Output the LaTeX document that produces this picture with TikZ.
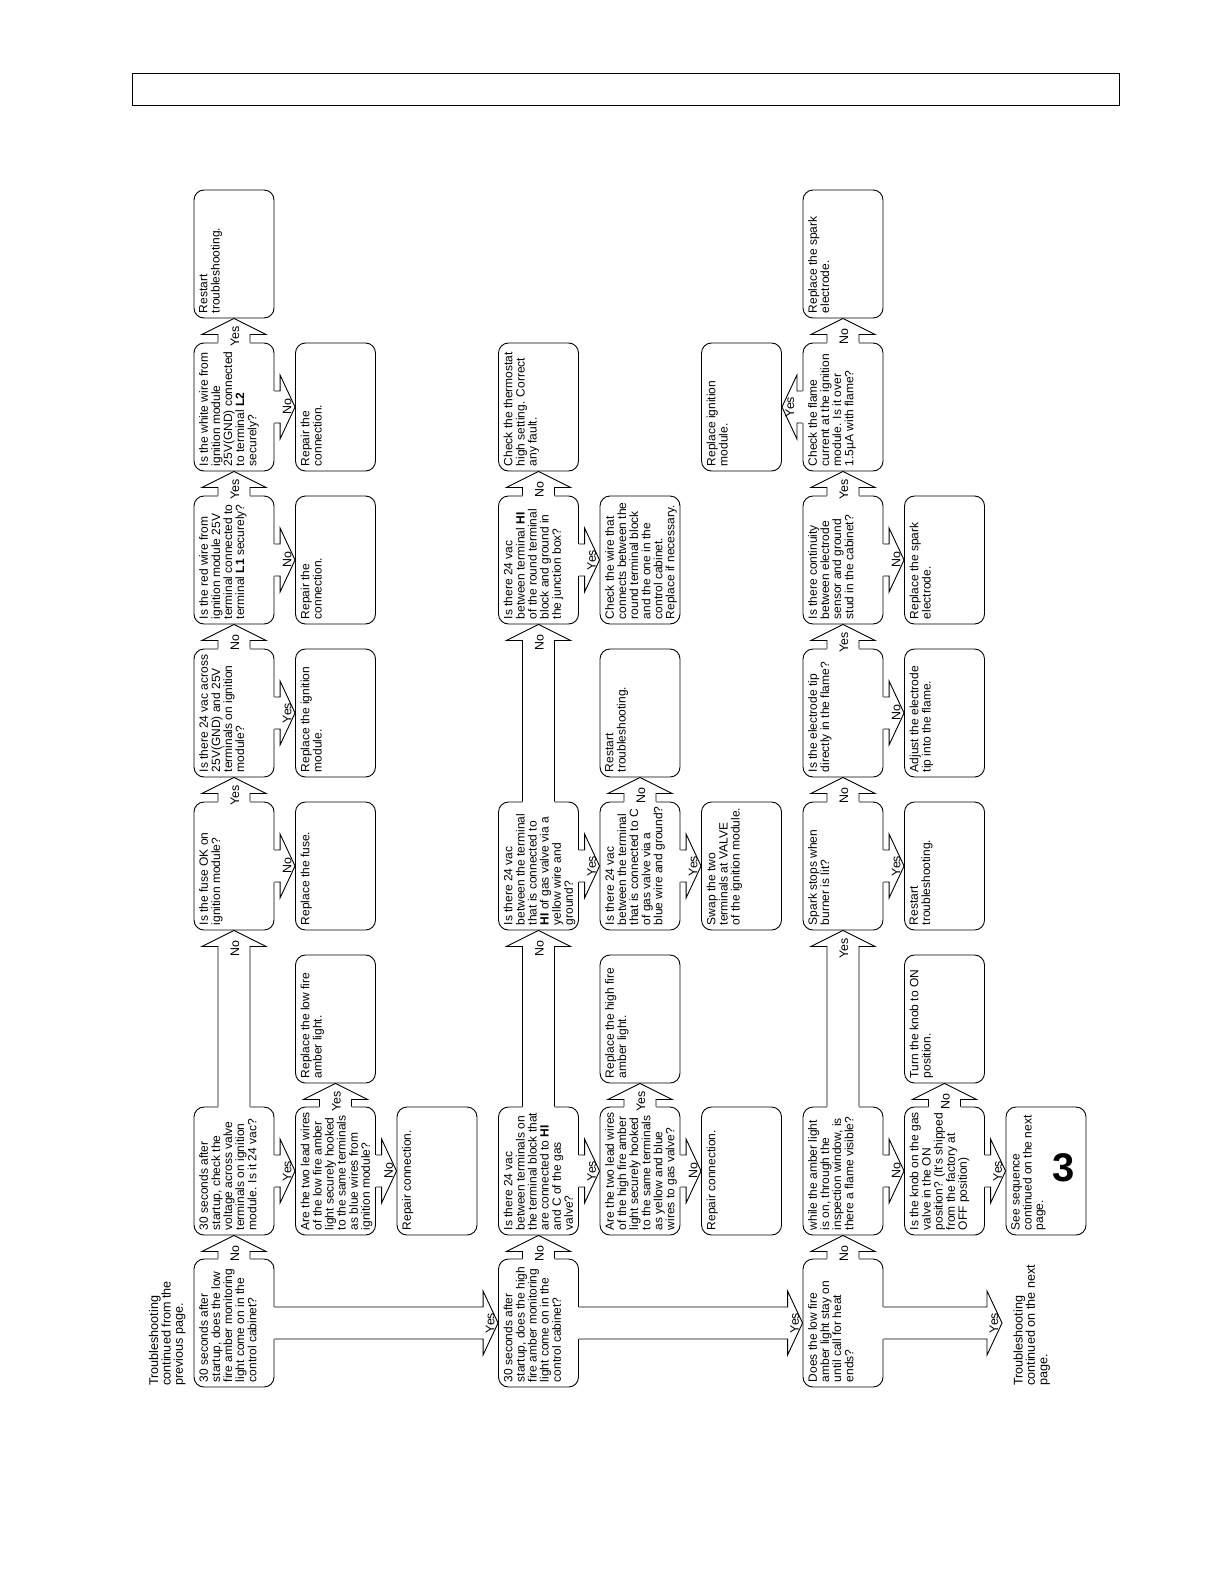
\documentclass[tikz,border=0pt]{standalone}
\usepackage{fontspec}
\setmainfont{Liberation Sans}
\usetikzlibrary{calc}

\tikzset{
  flow/.style={line width=0.45pt},
  box/.style={draw, flow, rounded corners=5pt, fill=white, rotate=90, inner sep=0pt},
  lbl/.style={rotate=90, inner sep=0pt, font=\fontsize{6.2}{6.2}\selectfont},
  note/.style={rotate=90, align=left, inner sep=0pt, font=\fontsize{6.3}{6.2}\selectfont},
}
\newcommand{\boxlead}{5.7}
\newcommand{\boxtop}{2.6pt}
\newcommand{\bx}[1]{\parbox[c][40pt][t]{64pt}{\fontsize{6}{\boxlead}\selectfont\vspace*{\boxtop}\hspace*{2.4pt}\begin{tabular}[t]{@{}l@{}}#1\end{tabular}}}
% hollow block arrows between box anchors
\newcommand{\arrup}[3]{%
  \fill[white] ($(#1)+(-16,1.5)$) -- ($(#2)+(-16,16)$) -- ($(#2)+(-32,16)$) -- (#2) -- ($(#2)+(32,16)$) -- ($(#2)+(16,16)$) -- ($(#1)+(16,1.5)$) -- cycle;
  \draw[flow] ($(#1)+(-16,0)$) -- ($(#2)+(-16,16)$) -- ($(#2)+(-32,16)$) -- (#2) -- ($(#2)+(32,16)$) -- ($(#2)+(16,16)$) -- ($(#1)+(16,0)$);
  \node[lbl] at ($(#2)+(1,18)$) {#3};}
\newcommand{\arrright}[3]{%
  \fill[white] ($(#1)+(-1.5,-16)$) -- ($(#2)+(-15,-16)$) -- ($(#2)+(-15,-32)$) -- (#2) -- ($(#2)+(-15,32)$) -- ($(#2)+(-15,16)$) -- ($(#1)+(-1.5,16)$) -- cycle;
  \draw[flow] ($(#1)+(0,-16)$) -- ($(#2)+(-15,-16)$) -- ($(#2)+(-15,-32)$) -- (#2) -- ($(#2)+(-15,32)$) -- ($(#2)+(-15,16)$) -- ($(#1)+(0,16)$);
  \node[lbl] at ($(#2)+(-8,0)$) {#3};}
\newcommand{\arrleft}[3]{%
  \fill[white] ($(#1)+(1.5,-16)$) -- ($(#2)+(15,-16)$) -- ($(#2)+(15,-32)$) -- (#2) -- ($(#2)+(15,32)$) -- ($(#2)+(15,16)$) -- ($(#1)+(1.5,16)$) -- cycle;
  \draw[flow] ($(#1)+(0,-16)$) -- ($(#2)+(15,-16)$) -- ($(#2)+(15,-32)$) -- (#2) -- ($(#2)+(15,32)$) -- ($(#2)+(15,16)$) -- ($(#1)+(0,16)$);
  \node[lbl] at ($(#2)+(8,0)$) {#3};}

\begin{document}
\begin{tikzpicture}[x=0.5pt,y=-0.5pt]
\useasboundingbox (0,0) rectangle (1224,1584);
\draw[flow] (132,73) rectangle (1119,105);

\node[note, anchor=south west] (prevpg) at (186,1386) {Troubleshooting\\continued from the\\previous page.};
\node[note, anchor=north west] (nextnote) at (1013,1386) {Troubleshooting\\continued on the next\\page.};
\coordinate (nextpg) at (1002,1323);

% low fire light
\node[box] (lowon) at (234,1323) {\bx{30 seconds after\\startup, does the low\\fire amber monitoring\\light come on in the\\control cabinet?}};
\node[box] (valvev) at (234,1171) {\bx{30 seconds after\\startup, check the\\voltage across valve\\terminals on ignition\\module. Is it 24 vac?}};
\node[box] (fuse) at (234,866) {\bx{Is the fuse OK on\\ignition module?}};
\node[box] (across) at (234,713) {\bx{Is there 24 vac across\\25V(GND) and 25V\\terminals on ignition\\module?}};
\node[box] (redw) at (234,560) {\bx{Is the red wire from\\ignition module 25V\\terminal connected to\\terminal \textbf{L1} securely?}};
\node[box] (whitew) at (234,407) {\bx{Is the white wire from\\ignition module\\25V(GND) connected\\to terminal \textbf{L2}\\securely?}};
\node[box] (restarta) at (234,254) {\bx{Restart\\troubleshooting.}};
\node[box] (leadlow) at (335.5,1171) {\bx{Are the two lead wires\\of the low fire amber\\light securely hooked\\to the same terminals\\as blue wires from\\ignition module?}};
\node[box] (repllow) at (335.5,1019) {\bx{Replace the low fire\\amber light.}};
\node[box] (replfuse) at (335.5,866) {\bx{Replace the fuse.}};
\node[box] (replmod) at (335.5,713) {\bx{Replace the ignition\\module.}};
\node[box] (repredw) at (335.5,560) {\bx{Repair the\\connection.}};
\node[box] (repwhite) at (335.5,407) {\bx{Repair the\\connection.}};
\node[box] (repconna) at (437,1171) {\bx{Repair connection.}};

% high fire light
\node[box] (highon) at (538.5,1323) {\bx{30 seconds after\\startup, does the high\\fire amber monitoring\\light come on in the\\control cabinet?}};
\node[box] (blockv) at (538.5,1171) {\bx{Is there 24 vac\\between terminals on\\the terminal block that\\are connected to \textbf{HI}\\and C of the gas\\valve?}};
\node[box] (hiv) at (538.5,866) {\bx{Is there 24 vac\\between the terminal\\that is connected to\\\textbf{HI} of gas valve via a\\yellow wire and\\ground?}};
\node[box] (roundv) at (538.5,560) {\bx{Is there 24 vac\\between terminal \textbf{HI}\\of the round terminal\\block and ground in\\the junction box?}};
\node[box] (thermo) at (538.5,407) {\bx{Check the thermostat\\high setting. Correct\\any fault.}};
\node[box] (leadhigh) at (640,1171) {\bx{Are the two lead wires\\of the high fire amber\\light securely hooked\\to the same terminals\\as yellow and blue\\wires to gas valve?}};
\node[box] (replhigh) at (640,1019) {\bx{Replace the high fire\\amber light.}};
\node[box] (cv) at (640,866) {\bx{Is there 24 vac\\between the terminal\\that is connected to C\\of gas valve via a\\blue wire and ground?}};
\node[box] (restartb) at (640,713) {\bx{Restart\\troubleshooting.}};
\node[box] (checkw) at (640,560) {\bx{Check the wire that\\connects between the\\round terminal block\\and the one in the\\control cabinet.\\Replace if necessary.}};
\node[box] (repconnb) at (741.5,1171) {\bx{Repair connection.}};
\node[box] (swap) at (741.5,866) {\bx{Swap the two\\terminals at VALVE\\of the ignition module.}};
\node[box] (replign) at (741.5,407) {\bx{Replace ignition\\module.}};

% flame
\node[box] (staylit) at (843,1323) {\bx{Does the low fire\\amber light stay on\\until call for heat\\ends?}};
\node[box] (flame) at (843,1171) {\bx{while the amber light\\is on, through the\\inspection window, is\\there a flame visible?}};
\node[box] (spark) at (843,866) {\bx{Spark stops when\\burner is lit?}};
\node[box] (tip) at (843,713) {\bx{Is the electrode tip\\directly in the flame?}};
\node[box] (cont) at (843,560) {\bx{Is there continuity\\between electrode\\sensor and ground\\stud in the cabinet?}};
\node[box] (current) at (843,407) {\bx{Check the flame\\current at the ignition\\module. Is it over\\1.5µA with flame?}};
\node[box] (replspark) at (843,254) {\bx{Replace the spark\\electrode.}};
\node[box] (knob) at (944.5,1171) {\bx{Is the knob on the gas\\valve in the ON\\position? (It's shipped\\from the factory at\\OFF position)}};
\node[box] (turnon) at (944.5,1019) {\bx{Turn the knob to ON\\position.}};
\node[box] (restartc) at (944.5,866) {\bx{Restart\\troubleshooting.}};
\node[box] (adjust) at (944.5,713) {\bx{Adjust the electrode\\tip into the flame.}};
\node[box] (replsparkb) at (944.5,560) {\bx{Replace the spark\\electrode.}};
\node[box] (seq) at (1046,1171) {\bx{See sequence\\continued on the next\\page.}};
\node[font=\bfseries\fontsize{20}{20}\selectfont, inner sep=0pt] (three) at (1064,1168) {3};

% connectors
\arrup{lowon.east}{valvev.west}{No}
\arrright{valvev.south}{leadlow.north}{Yes}
\arrup{leadlow.east}{repllow.west}{Yes}
\arrright{leadlow.south}{repconna.north}{No}
\arrup{valvev.east}{fuse.west}{No}
\arrright{fuse.south}{replfuse.north}{No}
\arrup{fuse.east}{across.west}{Yes}
\arrright{across.south}{replmod.north}{Yes}
\arrup{across.east}{redw.west}{No}
\arrright{redw.south}{repredw.north}{No}
\arrup{redw.east}{whitew.west}{Yes}
\arrright{whitew.south}{repwhite.north}{No}
\arrup{whitew.east}{restarta.west}{Yes}
\arrright{lowon.south}{highon.north}{Yes}

\arrup{highon.east}{blockv.west}{No}
\arrright{blockv.south}{leadhigh.north}{Yes}
\arrup{leadhigh.east}{replhigh.west}{Yes}
\arrright{leadhigh.south}{repconnb.north}{No}
\arrup{blockv.east}{hiv.west}{No}
\arrright{hiv.south}{cv.north}{Yes}
\arrright{cv.south}{swap.north}{Yes}
\arrup{cv.east}{restartb.west}{No}
\arrup{hiv.east}{roundv.west}{No}
\arrright{roundv.south}{checkw.north}{Yes}
\arrup{roundv.east}{thermo.west}{No}
\arrright{highon.south}{staylit.north}{Yes}

\arrup{staylit.east}{flame.west}{No}
\arrright{flame.south}{knob.north}{No}
\arrup{knob.east}{turnon.west}{No}
\arrright{knob.south}{seq.north}{Yes}
\arrup{flame.east}{spark.west}{Yes}
\arrright{spark.south}{restartc.north}{Yes}
\arrup{spark.east}{tip.west}{No}
\arrright{tip.south}{adjust.north}{No}
\arrup{tip.east}{cont.west}{Yes}
\arrright{cont.south}{replsparkb.north}{No}
\arrup{cont.east}{current.west}{Yes}
\arrup{current.east}{replspark.west}{No}
\arrleft{current.north}{replign.south}{Yes}
\arrright{staylit.south}{nextpg}{Yes}
\end{tikzpicture}
\end{document}
